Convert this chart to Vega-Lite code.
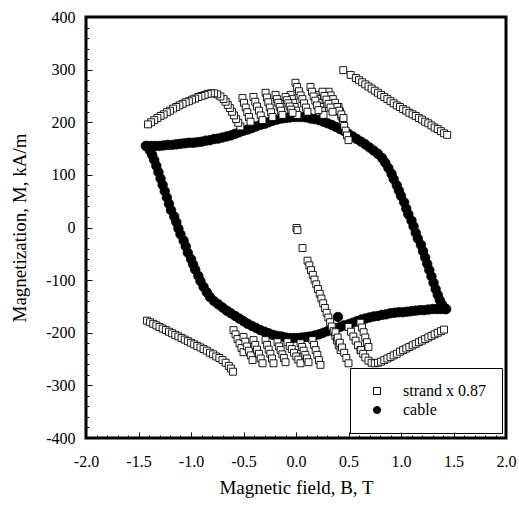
{
"$schema": "https://vega.github.io/schema/vega-lite/v6.json",
"width": 420, "height": 421,
"autosize": "none",
"padding": {"left": 86, "top": 17, "right": 13, "bottom": 67},
"config": {
 "font": "Liberation Serif",
 "view": {"stroke": "black", "strokeWidth": 3},
 "axis": {"domain": false, "grid": false, "ticks": true, "zindex": 1, "labelFont": "Liberation Serif", "labelFontSize": 16, "labelColor": "black", "titleFont": "Liberation Serif", "titleFontSize": 19, "titleFontWeight": "normal", "titleColor": "black", "tickColor": "black", "tickOpacity": 1, "tickWidth": 1, "labelOverlap": false, "labelFlush": false},
 "legend": {"title": null, "orient": "none", "legendX": 264, "legendY": 351, "padding": 15, "strokeColor": "black", "fillColor": "white", "labelFontSize": 16, "labelFont": "Liberation Serif", "labelColor": "black", "symbolSize": 50, "symbolStrokeWidth": 1, "rowPadding": 3, "labelOffset": 18, "symbolOffset": 4, "cornerRadius": 0}
},
"datasets": {
"cable": [
{"B":-1.42,"M":155},{"B":-1.38,"M":155},{"B":-1.34,"M":155},{"B":-1.30,"M":155},{"B":-1.26,"M":156},{"B":-1.22,"M":157},{"B":-1.18,"M":157},{"B":-1.14,"M":158},{"B":-1.10,"M":159},{"B":-1.06,"M":160},{"B":-1.02,"M":161},{"B":-0.98,"M":161},{"B":-0.94,"M":162},{"B":-0.90,"M":163},{"B":-0.86,"M":165},{"B":-0.82,"M":166},{"B":-0.78,"M":168},{"B":-0.74,"M":169},{"B":-0.70,"M":171},{"B":-0.66,"M":173},{"B":-0.62,"M":175},{"B":-0.58,"M":178},{"B":-0.54,"M":181},{"B":-0.50,"M":184},{"B":-0.46,"M":186},{"B":-0.42,"M":189},{"B":-0.38,"M":192},{"B":-0.34,"M":195},{"B":-0.30,"M":197},{"B":-0.26,"M":200},{"B":-0.22,"M":203},{"B":-0.18,"M":205},{"B":-0.14,"M":207},{"B":-0.10,"M":208},{"B":-0.06,"M":209},{"B":-0.02,"M":210},{"B":0.02,"M":210},{"B":0.06,"M":210},{"B":0.10,"M":209},{"B":0.14,"M":207},{"B":0.18,"M":206},{"B":0.22,"M":204},{"B":0.26,"M":201},{"B":0.30,"M":198},{"B":0.34,"M":195},{"B":0.38,"M":191},{"B":0.42,"M":187},{"B":0.46,"M":183},{"B":0.50,"M":178},{"B":0.54,"M":173},{"B":0.58,"M":168},{"B":0.62,"M":163},{"B":0.66,"M":158},{"B":0.70,"M":152},{"B":0.74,"M":146},{"B":0.78,"M":140},
{"B":0.82,"M":132},{"B":0.85,"M":123},{"B":0.88,"M":113},{"B":0.91,"M":102},{"B":0.93,"M":92},{"B":0.96,"M":80},{"B":0.98,"M":70},{"B":1.00,"M":60},{"B":1.03,"M":48},{"B":1.05,"M":36},{"B":1.07,"M":25},{"B":1.10,"M":13},{"B":1.12,"M":2},{"B":1.14,"M":-10},{"B":1.16,"M":-21},{"B":1.19,"M":-33},{"B":1.21,"M":-45},{"B":1.23,"M":-57},{"B":1.25,"M":-69},{"B":1.27,"M":-81},{"B":1.29,"M":-93},{"B":1.31,"M":-105},{"B":1.33,"M":-117},{"B":1.35,"M":-128},{"B":1.37,"M":-138},{"B":1.39,"M":-146},{"B":1.41,"M":-152},{"B":1.43,"M":-155},
{"B":1.42,"M":-155},{"B":1.38,"M":-155},{"B":1.34,"M":-155},{"B":1.30,"M":-155},{"B":1.26,"M":-156},{"B":1.22,"M":-157},{"B":1.18,"M":-157},{"B":1.14,"M":-158},{"B":1.10,"M":-159},{"B":1.06,"M":-160},{"B":1.02,"M":-161},{"B":0.98,"M":-161},{"B":0.94,"M":-162},{"B":0.90,"M":-163},{"B":0.86,"M":-165},{"B":0.82,"M":-166},{"B":0.78,"M":-168},{"B":0.74,"M":-169},{"B":0.70,"M":-171},{"B":0.66,"M":-173},{"B":0.62,"M":-175},{"B":0.58,"M":-178},{"B":0.54,"M":-181},{"B":0.50,"M":-184},{"B":0.46,"M":-186},{"B":0.42,"M":-189},{"B":0.38,"M":-192},{"B":0.34,"M":-195},{"B":0.30,"M":-197},{"B":0.26,"M":-200},{"B":0.22,"M":-203},{"B":0.18,"M":-205},{"B":0.14,"M":-207},{"B":0.10,"M":-208},{"B":0.06,"M":-209},{"B":0.02,"M":-210},{"B":-0.02,"M":-210},{"B":-0.06,"M":-210},{"B":-0.10,"M":-209},{"B":-0.14,"M":-207},{"B":-0.18,"M":-206},{"B":-0.22,"M":-204},{"B":-0.26,"M":-201},{"B":-0.30,"M":-198},{"B":-0.34,"M":-195},{"B":-0.38,"M":-191},{"B":-0.42,"M":-187},{"B":-0.46,"M":-183},{"B":-0.50,"M":-178},{"B":-0.54,"M":-173},{"B":-0.58,"M":-168},{"B":-0.62,"M":-163},{"B":-0.66,"M":-158},{"B":-0.70,"M":-152},{"B":-0.74,"M":-146},{"B":-0.78,"M":-140},
{"B":-0.82,"M":-132},{"B":-0.85,"M":-123},{"B":-0.88,"M":-113},{"B":-0.91,"M":-102},{"B":-0.93,"M":-92},{"B":-0.96,"M":-80},{"B":-0.98,"M":-70},{"B":-1.00,"M":-60},{"B":-1.03,"M":-48},{"B":-1.05,"M":-36},{"B":-1.07,"M":-25},{"B":-1.10,"M":-13},{"B":-1.12,"M":-2},{"B":-1.14,"M":10},{"B":-1.16,"M":21},{"B":-1.19,"M":33},{"B":-1.21,"M":45},{"B":-1.23,"M":57},{"B":-1.25,"M":69},{"B":-1.27,"M":81},{"B":-1.29,"M":93},{"B":-1.31,"M":105},{"B":-1.33,"M":117},{"B":-1.35,"M":128},{"B":-1.37,"M":138},{"B":-1.39,"M":146},{"B":-1.41,"M":152},{"B":-1.43,"M":155},
{"B":0.40,"M":-170}
],
"strand": [
{"B":0.005,"M":-1},{"B":0.014,"M":-5},{"B":0.062,"M":-39},
{"B":0.110,"M":-63},{"B":0.127,"M":-72},{"B":0.143,"M":-81},{"B":0.160,"M":-90},{"B":0.176,"M":-99},{"B":0.193,"M":-108},{"B":0.209,"M":-117},{"B":0.226,"M":-126},{"B":0.242,"M":-135},{"B":0.259,"M":-144},{"B":0.275,"M":-153},{"B":0.292,"M":-162},{"B":0.308,"M":-171},{"B":0.325,"M":-180},{"B":0.341,"M":-188},{"B":0.358,"M":-197},{"B":0.374,"M":-206},{"B":0.391,"M":-215},{"B":0.407,"M":-224},{"B":0.424,"M":-233},
{"B":0.376,"M":-199},{"B":0.397,"M":-209},{"B":0.417,"M":-219},{"B":0.438,"M":-228},{"B":0.459,"M":-238},{"B":0.479,"M":-248},{"B":0.500,"M":-258},
{"B":0.500,"M":-189},{"B":0.523,"M":-198},{"B":0.546,"M":-207},{"B":0.568,"M":-215},{"B":0.591,"M":-224},{"B":0.614,"M":-233},
{"B":0.614,"M":-181},{"B":0.629,"M":-190},{"B":0.644,"M":-199},{"B":0.660,"M":-209},{"B":0.675,"M":-218},{"B":0.690,"M":-227},
{"B":0.62,"M":-233},{"B":0.64,"M":-240},{"B":0.66,"M":-247},{"B":0.69,"M":-253},{"B":0.72,"M":-257},{"B":0.75,"M":-258},{"B":0.78,"M":-257},{"B":0.81,"M":-255},{"B":0.84,"M":-252},{"B":0.87,"M":-249},{"B":0.90,"M":-246},{"B":0.93,"M":-243},{"B":0.96,"M":-240},{"B":0.99,"M":-236},{"B":1.02,"M":-233},{"B":1.05,"M":-230},{"B":1.08,"M":-227},{"B":1.11,"M":-224},{"B":1.14,"M":-221},{"B":1.17,"M":-218},{"B":1.20,"M":-215},{"B":1.23,"M":-212},{"B":1.26,"M":-209},{"B":1.29,"M":-206},{"B":1.32,"M":-203},{"B":1.35,"M":-200},{"B":1.38,"M":-197},{"B":1.41,"M":-194},
{"B":0.45,"M":299},{"B":0.52,"M":290},{"B":0.57,"M":284},{"B":0.60,"M":280},{"B":0.63,"M":276},{"B":0.66,"M":272},{"B":0.69,"M":268},{"B":0.72,"M":264},{"B":0.75,"M":260},{"B":0.78,"M":256},{"B":0.81,"M":252},{"B":0.84,"M":248},{"B":0.87,"M":244},{"B":0.90,"M":240},{"B":0.93,"M":236},{"B":0.96,"M":232},{"B":0.99,"M":229},{"B":1.02,"M":225},{"B":1.05,"M":222},{"B":1.08,"M":218},{"B":1.11,"M":215},{"B":1.14,"M":212},{"B":1.17,"M":208},{"B":1.20,"M":205},{"B":1.23,"M":201},{"B":1.26,"M":198},{"B":1.29,"M":194},{"B":1.32,"M":190},{"B":1.35,"M":187},{"B":1.38,"M":183},{"B":1.41,"M":179},{"B":1.44,"M":176},
{"B":0.405,"M":229},{"B":0.419,"M":220},{"B":0.432,"M":211},{"B":0.446,"M":202},{"B":0.459,"M":193},{"B":0.473,"M":184},{"B":0.486,"M":175},{"B":0.500,"M":166},
{"B":0.310,"M":258},{"B":0.330,"M":251},{"B":0.351,"M":244},{"B":0.371,"M":237},{"B":0.391,"M":229},{"B":0.411,"M":222},{"B":0.432,"M":215},{"B":0.452,"M":208},
{"B":0.252,"M":258},{"B":0.271,"M":250},{"B":0.290,"M":243},{"B":0.310,"M":235},{"B":0.329,"M":228},{"B":0.348,"M":220},
{"B":0.186,"M":252},{"B":0.201,"M":244},{"B":0.216,"M":237},{"B":0.232,"M":229},{"B":0.247,"M":222},{"B":0.262,"M":214},
{"B":0.138,"M":267},{"B":0.153,"M":258},{"B":0.168,"M":249},{"B":0.184,"M":241},{"B":0.199,"M":232},{"B":0.214,"M":223},
{"B":-0.005,"M":275},{"B":0.011,"M":267},{"B":0.028,"M":259},{"B":0.044,"M":251},{"B":0.061,"M":244},{"B":0.077,"M":236},{"B":0.094,"M":228},{"B":0.110,"M":220},
{"B":-0.052,"M":252},{"B":-0.039,"M":244},{"B":-0.026,"M":237},{"B":-0.012,"M":229},{"B":0.001,"M":222},{"B":0.014,"M":214},
{"B":-0.100,"M":248},{"B":-0.087,"M":242},{"B":-0.073,"M":236},{"B":-0.060,"M":230},{"B":-0.046,"M":224},{"B":-0.033,"M":218},
{"B":-0.195,"M":252},{"B":-0.182,"M":244},{"B":-0.169,"M":237},{"B":-0.155,"M":229},{"B":-0.142,"M":222},{"B":-0.129,"M":214},
{"B":-0.290,"M":256},{"B":-0.277,"M":247},{"B":-0.264,"M":238},{"B":-0.250,"M":228},{"B":-0.237,"M":219},{"B":-0.224,"M":210},
{"B":-0.405,"M":248},{"B":-0.388,"M":239},{"B":-0.371,"M":230},{"B":-0.353,"M":222},{"B":-0.336,"M":213},{"B":-0.319,"M":204},
{"B":-0.510,"M":246},{"B":-0.495,"M":237},{"B":-0.479,"M":228},{"B":-0.464,"M":219},{"B":-0.448,"M":210},{"B":-0.433,"M":201},
{"B":-0.53,"M":192},{"B":-0.55,"M":199},{"B":-0.57,"M":206},{"B":-0.59,"M":213},{"B":-0.61,"M":220},{"B":-0.63,"M":227},{"B":-0.65,"M":233},{"B":-0.67,"M":239},{"B":-0.69,"M":244},{"B":-0.72,"M":249},{"B":-0.75,"M":253},{"B":-0.78,"M":255},{"B":-0.81,"M":255},{"B":-0.84,"M":254},{"B":-0.87,"M":252},{"B":-0.90,"M":250},{"B":-0.93,"M":248},{"B":-0.96,"M":245},{"B":-0.99,"M":243},{"B":-1.02,"M":240},{"B":-1.05,"M":238},{"B":-1.08,"M":235},{"B":-1.11,"M":232},{"B":-1.14,"M":229},{"B":-1.17,"M":226},{"B":-1.20,"M":222},{"B":-1.23,"M":219},{"B":-1.26,"M":215},{"B":-1.29,"M":212},{"B":-1.32,"M":208},{"B":-1.35,"M":204},{"B":-1.38,"M":200},{"B":-1.41,"M":196},
{"B":-1.42,"M":-177},{"B":-1.39,"M":-180},{"B":-1.36,"M":-183},{"B":-1.33,"M":-186},{"B":-1.30,"M":-189},{"B":-1.27,"M":-192},{"B":-1.24,"M":-195},{"B":-1.21,"M":-198},{"B":-1.18,"M":-201},{"B":-1.15,"M":-204},{"B":-1.12,"M":-207},{"B":-1.09,"M":-210},{"B":-1.06,"M":-213},{"B":-1.03,"M":-216},{"B":-1.00,"M":-219},{"B":-0.97,"M":-222},{"B":-0.94,"M":-225},{"B":-0.91,"M":-228},{"B":-0.88,"M":-231},{"B":-0.85,"M":-234},{"B":-0.82,"M":-238},{"B":-0.79,"M":-241},{"B":-0.76,"M":-245},{"B":-0.73,"M":-248},{"B":-0.70,"M":-252},{"B":-0.67,"M":-257},{"B":-0.64,"M":-263},{"B":-0.62,"M":-268},{"B":-0.60,"M":-274},
{"B":-0.595,"M":-195},{"B":-0.576,"M":-203},{"B":-0.557,"M":-212},{"B":-0.538,"M":-220},{"B":-0.519,"M":-229},{"B":-0.500,"M":-237},
{"B":-0.500,"M":-208},{"B":-0.483,"M":-217},{"B":-0.466,"M":-226},{"B":-0.448,"M":-234},{"B":-0.431,"M":-243},{"B":-0.414,"M":-252},
{"B":-0.405,"M":-214},{"B":-0.388,"M":-223},{"B":-0.371,"M":-232},{"B":-0.353,"M":-240},{"B":-0.336,"M":-249},{"B":-0.319,"M":-258},
{"B":-0.290,"M":-214},{"B":-0.275,"M":-223},{"B":-0.260,"M":-232},{"B":-0.244,"M":-240},{"B":-0.229,"M":-249},{"B":-0.214,"M":-258},
{"B":-0.176,"M":-218},{"B":-0.161,"M":-226},{"B":-0.146,"M":-233},{"B":-0.130,"M":-241},{"B":-0.115,"M":-248},{"B":-0.100,"M":-256},
{"B":-0.081,"M":-218},{"B":-0.060,"M":-225},{"B":-0.040,"M":-231},{"B":-0.019,"M":-238},{"B":0.002,"M":-245},{"B":0.022,"M":-251},{"B":0.043,"M":-258},
{"B":0.043,"M":-220},{"B":0.058,"M":-227},{"B":0.073,"M":-234},{"B":0.089,"M":-242},{"B":0.104,"M":-249},{"B":0.119,"M":-256},
{"B":0.157,"M":-214},{"B":0.172,"M":-223},{"B":0.187,"M":-233},{"B":0.203,"M":-242},{"B":0.218,"M":-252},{"B":0.233,"M":-261}
]
},
"encoding": {
 "x": {"field": "B", "type": "quantitative", "scale": {"domain": [-2, 2], "nice": false},
  "axis": {"title": "Magnetic field, B, T", "values": [-2,-1.9,-1.8,-1.7,-1.6,-1.5,-1.4,-1.3,-1.2,-1.1,-1,-0.9,-0.8,-0.7,-0.6,-0.5,-0.4,-0.3,-0.2,-0.1,0,0.1,0.2,0.3,0.4,0.5,0.6,0.7,0.8,0.9,1,1.1,1.2,1.3,1.4,1.5,1.6,1.7,1.8,1.9,2],
   "labelExpr": "abs(datum.value*2 - round(datum.value*2)) < 0.001 ? replace(format(datum.value, '.1f'), '\u2212', '-') : ''",
   "tickSize": {"condition": {"test": "abs(datum.value*2 - round(datum.value*2)) < 0.001", "value": -6}, "value": -3},
   "tickColor": "black", "ticks": true, "zindex": 1,
   "labelPadding": 21, "titlePadding": 6, "labelFlush": false, "labelOverlap": false}},
 "y": {"field": "M", "type": "quantitative", "scale": {"domain": [-400, 400], "nice": false},
  "axis": {"title": "Magnetization, M, kA/m", "values": [-400,-380,-360,-340,-320,-300,-280,-260,-240,-220,-200,-180,-160,-140,-120,-100,-80,-60,-40,-20,0,20,40,60,80,100,120,140,160,180,200,220,240,260,280,300,320,340,360,380,400],
   "labelExpr": "datum.value % 100 == 0 ? replace(format(datum.value, 'd'), '\u2212', '-') : ''",
   "tickSize": {"condition": {"test": "datum.value % 100 == 0", "value": -6}, "value": -3},
   "tickColor": "black", "ticks": true, "zindex": 1,
   "labelPadding": 17, "titlePadding": 16, "labelFlush": false, "labelOverlap": false}}
},
"layer": [
 {
  "data": {"name": "cable"},
  "mark": {"type": "point", "opacity": 1, "strokeWidth": 0.8, "size": 90},
  "encoding": {
   "shape": {"datum": "cable", "type": "nominal", "scale": {"domain": ["strand x 0.87", "cable"], "range": ["square", "circle"]}},
   "fill": {"datum": "cable", "type": "nominal", "scale": {"domain": ["strand x 0.87", "cable"], "range": ["white", "black"]}},
   "stroke": {"datum": "cable", "type": "nominal", "scale": {"domain": ["strand x 0.87", "cable"], "range": ["black", "black"]}}
  }
 },
 {
  "data": {"name": "strand"},
  "mark": {"type": "point", "opacity": 1, "strokeWidth": 0.9, "size": 48},
  "encoding": {
   "shape": {"datum": "strand x 0.87", "type": "nominal"},
   "fill": {"datum": "strand x 0.87", "type": "nominal"},
   "stroke": {"datum": "strand x 0.87", "type": "nominal"}
  }
 }
]
}
